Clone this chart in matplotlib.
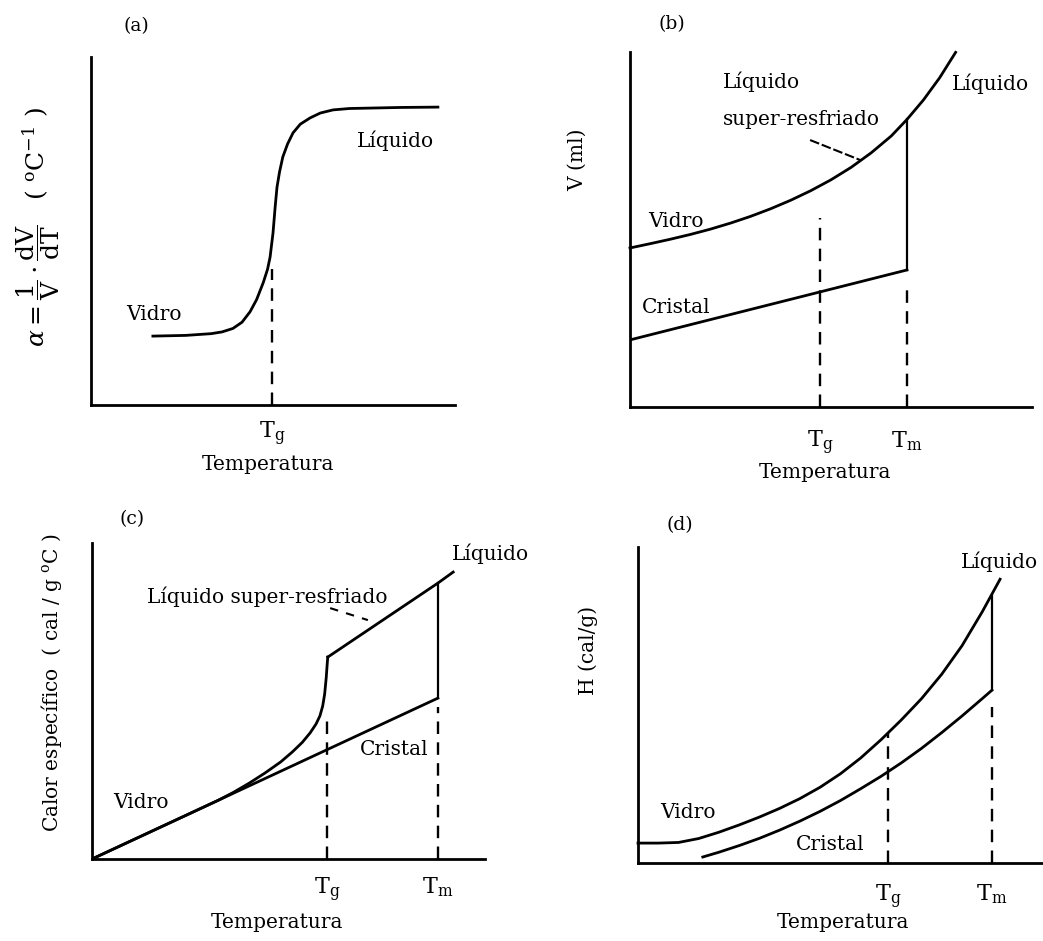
import matplotlib
matplotlib.use("Agg")
import matplotlib.pyplot as plt

plt.rcParams['font.family'] = ['DejaVu Serif']
plt.rcParams['mathtext.fontset'] = 'dejavuserif'
plt.rcParams['lines.scale_dashes'] = False

# ---------------- data (schematic units 0..10) ----------------
# (a) expansion coefficient vs temperature
a_T = [1.7, 2.6, 3.3, 3.6, 3.9, 4.15, 4.37, 4.55, 4.73, 4.85, 4.92, 5.0, 5.06,
       5.11, 5.18, 5.27, 5.4, 5.55, 5.75, 6.02, 6.3, 6.65, 7.1, 7.58, 8.5, 9.53]
a_alpha = [1.98, 2.0, 2.05, 2.1, 2.2, 2.38, 2.68, 3.03, 3.51, 3.9, 4.25, 4.94, 5.7,
           6.26, 6.7, 7.13, 7.5, 7.82, 8.07, 8.25, 8.39, 8.48, 8.52, 8.53, 8.55, 8.56]
a_Tg = 4.97
a_Tg_top = 3.9

# (b) volume vs temperature
b_T_glass = [0, 0.5, 1.0, 1.5, 2.0, 2.5, 3.0, 3.5, 4.0, 4.5, 5.0, 5.5, 6.0, 6.5, 6.89, 7.3, 7.7, 8.1]
b_V_glass = [4.48, 4.60, 4.725, 4.86, 5.01, 5.18, 5.37, 5.585, 5.825, 6.095, 6.4, 6.75, 7.16,
             7.635, 8.10, 8.65, 9.27, 9.99]
b_T_cryst = [0, 6.89]
b_V_cryst = [1.89, 3.86]
b_Tg, b_Tm = 4.73, 6.89
b_Tg_top, b_Tm_top = 5.32, 3.38
b_pointer_T = [4.48, 5.72]
b_pointer_V = [7.52, 6.96]

# (c) specific heat vs temperature
c_T_cryst = [0, 8.80]
c_cp_cryst = [0, 5.09]
c_T_glass = [0, 2.5, 3.2, 3.6, 4.0, 4.4, 4.8, 5.1, 5.35, 5.55, 5.7, 5.8, 5.87, 5.92, 5.96, 5.99, 6.0]
c_cp_glass = [0, 1.445, 1.85, 2.11, 2.40, 2.72, 3.07, 3.39, 3.69, 3.99, 4.27, 4.53, 4.84, 5.22,
              5.74, 6.26, 6.39]
c_T_liq = [6.0, 8.80, 9.19]
c_cp_liq = [6.39, 8.73, 9.08]
c_Tg, c_Tm = 5.98, 8.80
c_Tg_top, c_Tm_top = 4.56, 4.8
c_pointer_T = [6.06, 7.02]
c_pointer_cp = [7.94, 7.56]

# (d) enthalpy vs temperature
d_T_glass = [0, 0.5, 1.0, 1.5, 2.0, 2.5, 3.0, 3.5, 4.0, 4.5, 5.0, 5.5, 6.0, 6.5, 7.0, 7.5, 8.0, 8.5, 8.94]
d_H_glass = [0.63, 0.63, 0.65, 0.775, 0.975, 1.205, 1.455, 1.73, 2.04, 2.4, 2.825, 3.325, 3.9,
             4.525, 5.2, 5.975, 6.875, 7.95, 8.98]
d_T_cryst = [1.6, 2.0, 2.5, 3.0, 3.5, 4.0, 4.5, 5.0, 5.5, 6.0, 6.5, 7.0, 7.5, 8.0, 8.5, 8.74]
d_H_cryst = [0.19, 0.342, 0.552, 0.782, 1.042, 1.327, 1.637, 1.977, 2.352, 2.742, 3.167, 3.627,
             4.127, 4.652, 5.202, 5.47]
d_Tg, d_Tm = 6.17, 8.74
d_Tm_liq = 8.45
d_Tg_top, d_Tm_top = 4.1, 4.94

tick_labels = [r'$\mathrm{T_g}$', r'$\mathrm{T_m}$']

# ---------------- figure ----------------
W, H = 1043, 941
fig = plt.figure(figsize=(W / 100, H / 100), dpi=100)

LW = 2.0
DLW = 1.7
DASH = (9, 6)
FS = 14.5


def make_ax(L, R, B, T):
    ax = fig.add_axes([L / W, 1 - B / H, (R - L) / W, (B - T) / H])
    ax.set_xlim(0, 10)
    ax.set_ylim(0, 10)
    for s in ('top', 'right'):
        ax.spines[s].set_visible(False)
    for s in ('left', 'bottom'):
        ax.spines[s].set_linewidth(LW)
    ax.set_yticks([])
    ax.tick_params(axis='x', length=0, labelsize=FS + 1.5)
    ax.patch.set_alpha(0)
    return ax


def place_labels(ax, ylabel, yx, yy, xx, xy, yfs=FS):
    ax.set_xlabel('Temperatura', fontsize=FS)
    ax.xaxis.label.set(va='center')
    ax.xaxis.set_label_coords(xx, xy)
    ax.set_ylabel(ylabel, fontsize=yfs)
    ax.yaxis.label.set(va='center', ha='center', rotation_mode='default')
    ax.yaxis.set_label_coords(yx, yy)


def dashed(ax, x, top):
    ax.plot([x, x], [0, top], color='black', lw=DLW, dashes=DASH)


# (a)
ax = make_ax(91, 455, 405, 57)
ax.plot(a_T, a_alpha, color='black', lw=LW)
dashed(ax, a_Tg, a_Tg_top)
ax.set_xticks([a_Tg], labels=tick_labels[:1])
ax.tick_params(axis='x', pad=11)
ax.text(7.31, 7.41, 'Líquido', fontsize=FS)
ax.text(0.96, 2.44, 'Vidro', fontsize=FS)
ax.text(1.26, 10.9, '(a)', fontsize=FS - 1, ha='center', va='center', clip_on=False)
place_labels(ax,
             r'$\alpha = \dfrac{1}{\mathrm{V}}\cdot\dfrac{\mathrm{dV}}{\mathrm{dT}}\ \ \ (\ ^{\mathrm{o}}\mathrm{C}^{-1}\ )$',
             (38 - 91) / 364, (405 - 227) / 348, (268 - 91) / 364, -(465 - 405) / 348, yfs=18)

# (b)
ax = make_ax(630, 1032, 407, 52)
ax.plot(b_T_glass, b_V_glass, color='black', lw=LW, clip_on=False)
ax.plot(b_T_cryst, b_V_cryst, color='black', lw=LW)
ax.plot([b_Tm, b_Tm], [b_V_cryst[-1], b_V_glass[b_T_glass.index(b_Tm)]], color='black', lw=1.6)
dashed(ax, b_Tg, b_Tg_top)
dashed(ax, b_Tm, b_Tm_top)
ax.plot(b_pointer_T, b_pointer_V, color='black', lw=1.5, dashes=(7, 2))
ax.set_xticks([b_Tg, b_Tm], labels=tick_labels)
ax.tick_params(axis='x', pad=16)
ax.text(2.31, 9.0, 'Líquido', fontsize=FS)
ax.text(2.31, 7.94, 'super-resfriado', fontsize=FS)
ax.text(8.01, 8.93, 'Líquido', fontsize=FS)
ax.text(0.45, 5.07, 'Vidro', fontsize=FS)
ax.text(0.3, 2.65, 'Cristal', fontsize=FS)
ax.text(1.05, 10.78, '(b)', fontsize=FS - 1, ha='center', va='center', clip_on=False)
place_labels(ax, 'V (ml)', (577 - 630) / 402, (407 - 160) / 355, (825 - 630) / 402, -(473 - 407) / 355)

# (c)
ax = make_ax(92, 485, 859, 543)
ax.plot(c_T_cryst, c_cp_cryst, color='black', lw=LW)
ax.plot(c_T_glass, c_cp_glass, color='black', lw=LW)
ax.plot(c_T_liq, c_cp_liq, color='black', lw=LW, clip_on=False)
ax.plot([c_Tm, c_Tm], [c_cp_cryst[-1], c_cp_liq[1]], color='black', lw=1.6)
dashed(ax, c_Tg, c_Tg_top)
dashed(ax, c_Tm, c_Tm_top)
ax.plot(c_pointer_T, c_pointer_cp, color='black', lw=1.5, dashes=(6, 6))
ax.set_xticks([c_Tg, c_Tm], labels=tick_labels)
ax.tick_params(axis='x', pad=12)
ax.text(1.40, 8.10, 'Líquido super-resfriado', fontsize=FS)
ax.text(9.16, 9.46, 'Líquido', fontsize=FS, clip_on=False)
ax.text(6.82, 3.29, 'Cristal', fontsize=FS)
ax.text(0.53, 1.61, 'Vidro', fontsize=FS)
ax.text(1.02, 10.75, '(c)', fontsize=FS - 1, ha='center', va='center', clip_on=False)
place_labels(ax, r'Calor específico  ( cal / g $^{\mathrm{o}}$C )',
             (52 - 92) / 393, (859 - 683) / 316, (277 - 92) / 393, -(923 - 859) / 316)

# (d)
ax = make_ax(638, 1043, 863, 547)
ax.plot(d_T_glass, d_H_glass, color='black', lw=LW, clip_on=False)
ax.plot(d_T_cryst, d_H_cryst, color='black', lw=LW)
ax.plot([d_Tm, d_Tm], [d_H_cryst[-1], d_Tm_liq], color='black', lw=1.6)
dashed(ax, d_Tg, d_Tg_top)
dashed(ax, d_Tm, d_Tm_top)
ax.set_xticks([d_Tg, d_Tm], labels=tick_labels)
ax.tick_params(axis='x', pad=14)
ax.text(7.98, 9.34, 'Líquido', fontsize=FS)
ax.text(0.54, 1.42, 'Vidro', fontsize=FS)
ax.text(3.90, 0.41, 'Cristal', fontsize=FS)
ax.text(1.04, 10.7, '(d)', fontsize=FS - 1, ha='center', va='center', clip_on=False)
place_labels(ax, 'H (cal/g)', (588 - 638) / 405, (863 - 650) / 316, (843 - 638) / 405, -(923 - 863) / 316)

fig.savefig('out.png', dpi=100)
